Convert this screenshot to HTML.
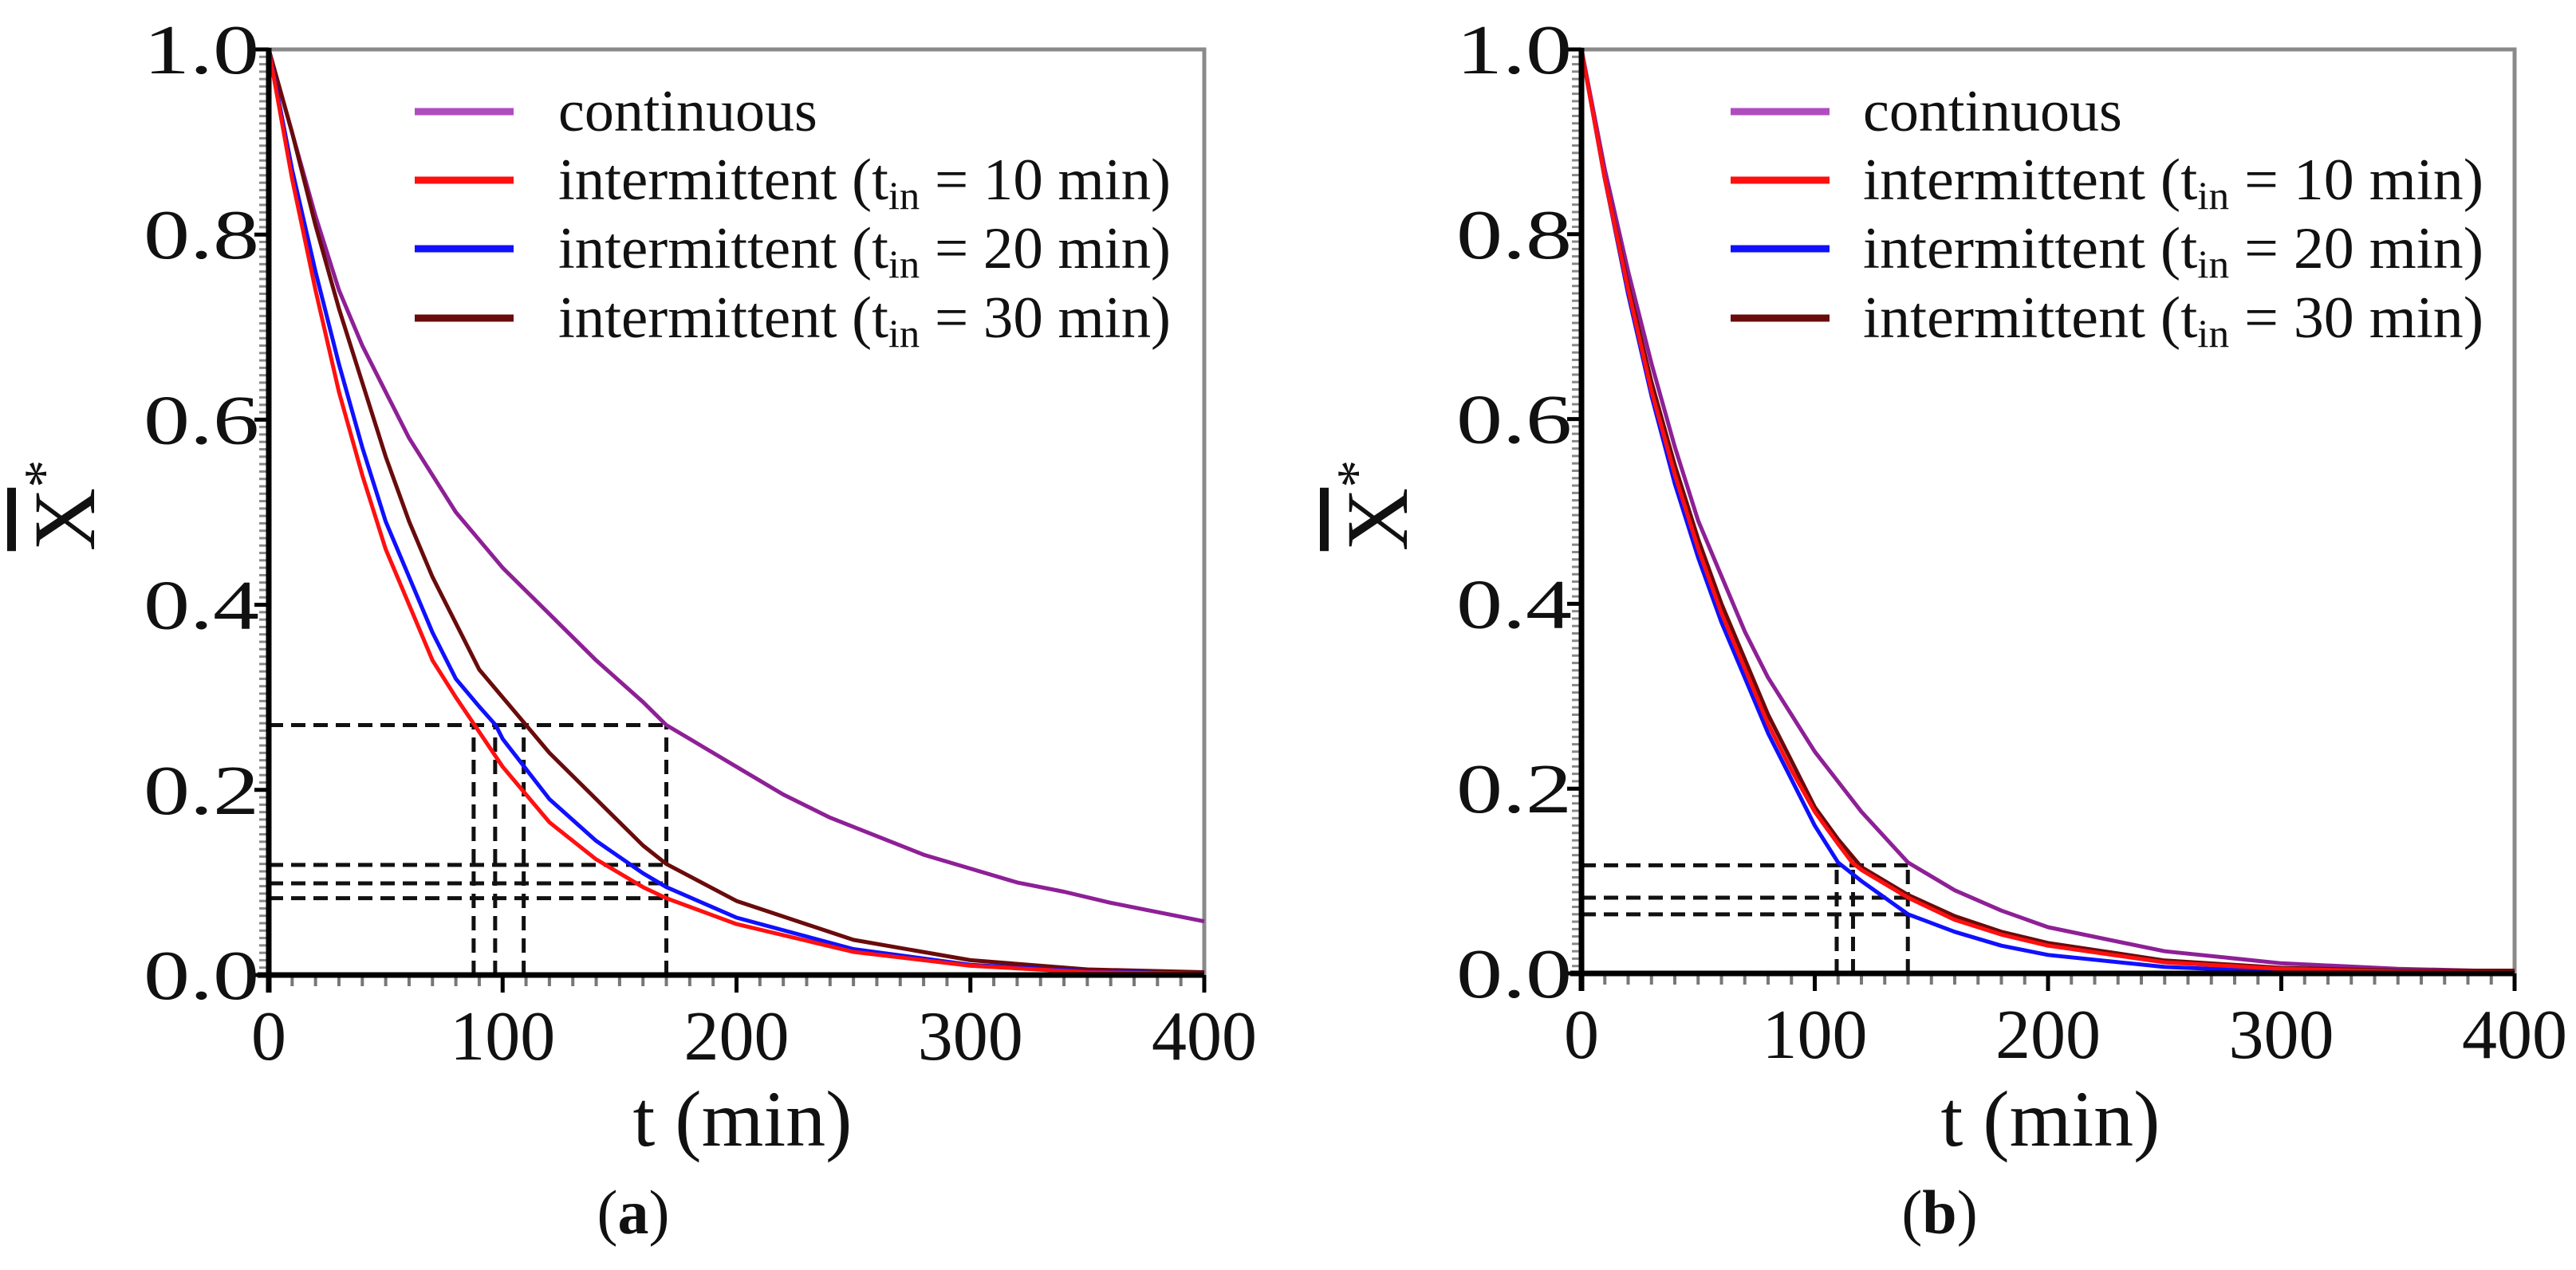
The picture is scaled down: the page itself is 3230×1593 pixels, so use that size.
<!DOCTYPE html>
<html><head><meta charset="utf-8"><style>
html,body{margin:0;padding:0;background:#fff;}
svg{display:block;font-family:"Liberation Serif",serif;}
</style></head><body>
<svg id="fig" width="3230" height="1593" viewBox="0 0 3230 1593" xmlns="http://www.w3.org/2000/svg"></svg>
<script>
const tTicks = [0,100,200,300,400];
const yTicks = [0.0,0.2,0.4,0.6,0.8,1.0];
const yTickLabels = ["0.0","0.2","0.4","0.6","0.8","1.0"];
const legendLabels = ["continuous","intermittent","intermittent","intermittent"];
const legendTin = [null,"10","20","30"];
const seriesNames = ["continuous","tin-10","tin-20","tin-30"];

const aT_cont = [0,10,20,30,40,50,60,70,80,90,100,120,140,160,170,180,200,220,240,260,280,300,320,340,360,380,400];
const aV_cont = [1,0.91,0.82,0.74,0.68,0.63,0.58,0.54,0.50,0.47,0.44,0.39,0.34,0.295,0.27,0.255,0.225,0.195,0.17,0.15,0.13,0.115,0.10,0.09,0.078,0.068,0.058];
const aT_10 = [0,10,20,30,40,50,60,70,80,88,100,120,140,160,170,200,250,300,350,400];
const aV_10 = [1,0.86,0.74,0.63,0.54,0.46,0.40,0.34,0.30,0.27,0.225,0.165,0.125,0.095,0.083,0.055,0.025,0.01,0.003,0.001];
const aT_20 = [0,10,20,30,40,50,60,70,80,90,97,100,120,140,160,170,200,250,300,350,400];
const aV_20 = [1,0.87,0.76,0.66,0.57,0.49,0.43,0.37,0.32,0.29,0.27,0.255,0.19,0.145,0.11,0.095,0.062,0.028,0.011,0.004,0.001];
const aT_30 = [0,10,20,30,40,50,60,70,80,90,100,110,120,140,160,170,200,250,300,350,400];
const aV_30 = [1,0.91,0.81,0.72,0.64,0.56,0.49,0.43,0.38,0.33,0.30,0.27,0.24,0.19,0.14,0.12,0.08,0.038,0.016,0.006,0.003];

const bT_cont = [0,10,20,30,40,50,60,70,80,90,100,120,140,160,180,200,250,300,350,400];
const bV_cont = [1,0.87,0.76,0.66,0.57,0.49,0.43,0.37,0.32,0.28,0.24,0.175,0.12,0.09,0.068,0.05,0.024,0.011,0.005,0.002];
const bT_10 = [0,10,20,30,40,50,60,70,80,90,100,110,116,120,140,160,180,200,250,300,350,400];
const bV_10 = [1,0.86,0.74,0.63,0.54,0.46,0.39,0.33,0.27,0.22,0.175,0.14,0.12,0.112,0.082,0.058,0.042,0.03,0.012,0.005,0.002,0.001];
const bT_20 = [0,10,20,30,40,50,60,70,80,90,100,110,120,140,160,180,200,250,300,350,400];
const bV_20 = [1,0.86,0.735,0.625,0.53,0.45,0.38,0.32,0.26,0.21,0.16,0.12,0.10,0.064,0.045,0.03,0.02,0.007,0.002,0.001,0];
const bT_30 = [0,10,20,30,40,50,60,70,80,90,100,110,120,140,160,180,200,250,300,350,400];
const bV_30 = [1,0.86,0.745,0.64,0.55,0.47,0.40,0.34,0.28,0.23,0.18,0.145,0.115,0.085,0.062,0.045,0.033,0.014,0.006,0.003,0.003];

const aGuideH = [0.27,0.119,0.099,0.083];
const aGuideV = [87.6,96.8,109,170];
const aGuideHEnd = 170, aGuideVTop = 0.27;
const bGuideH = [0.117,0.082,0.064];
const bGuideV = [109.4,116.4,139.9];
const bGuideHEnd = 139.9, bGuideVTop = 0.117;

const colors = ["#8e2096","#ff1010","#1010ff","#6a0b0b"];
const legendColors = ["#b04cc0","#ff1010","#1010ff","#6a0b0b"];

const NS = "http://www.w3.org/2000/svg";
const svg = document.getElementById('fig');
function mk(tag, attrs, parent){const e=document.createElementNS(NS,tag);for(const k in attrs)e.setAttribute(k,attrs[k]);(parent||svg).appendChild(e);return e;}

function panel(id, box, series, gH, gV, gHEnd, gVTop, leg, labels){
  const g = mk('g',{});
  
  
  const X = t => box.x0 + (t/400)*(box.x1-box.x0);
  const Y = v => box.y0 - v*(box.y0-box.y1);
  mk('path',{d:`M${box.x0} ${box.y1} H${box.x1} V${box.y0}`,stroke:'#8a8a8a','stroke-width':5,fill:'none'},g);
  for(let t=0;t<=400;t+=10){mk('line',{x1:X(t),x2:X(t),y1:box.y0,y2:box.y0+(t%100===0?22:14),stroke:t%100===0?'#000':'#777','stroke-width':t%100===0?5:4},g);}
  for(let i=0;i<=125;i++){const v=i/125;mk('line',{x1:box.x0-12,x2:box.x0,y1:Y(v),y2:Y(v),stroke:'#888','stroke-width':3},g);}
  yTicks.forEach(v=>{mk('line',{x1:box.x0-18,x2:box.x0,y1:Y(v),y2:Y(v),stroke:'#000','stroke-width':5},g);});
  gH.forEach((v,i)=>{const l=mk('line',{x1:box.x0,x2:X(gHEnd),y1:Y(v),y2:Y(v),stroke:'#111','stroke-width':5,'stroke-dasharray':'18 10'},g);
    
    });
  gV.forEach((t,i)=>{const l=mk('line',{x1:X(t),x2:X(t),y1:box.y0,y2:Y(gVTop),stroke:'#111','stroke-width':5,'stroke-dasharray':'18 10'},g);
    
    });
  [0,3,2,1].forEach(si=>{const [ts,vs]=series[si];
    const d=ts.map((t,i)=>(i?'L':'M')+X(t).toFixed(1)+' '+Y(vs[i]).toFixed(1)).join(' ');
    const p=mk('path',{d,stroke:colors[si],'stroke-width':5,fill:'none','stroke-linejoin':'round'},g);
    
    });
  mk('line',{x1:box.x0,x2:box.x0,y1:box.y1-2,y2:box.y0+22,stroke:'#000','stroke-width':7},g);
  mk('line',{x1:box.x0-14,x2:box.x1,y1:box.y0,y2:box.y0,stroke:'#000','stroke-width':7},g);
  yTicks.forEach((v,i)=>{const tx=mk('text',{x:box.x0-12,y:Y(v)+30,'font-size':88,'text-anchor':'end',fill:'#111',textLength:145,lengthAdjust:'spacingAndGlyphs'},g);tx.textContent=yTickLabels[i];
    
    });
  tTicks.forEach(t=>{const tx=mk('text',{x:X(t),y:box.y0+106,'font-size':88,'text-anchor':'middle',fill:'#111'},g);tx.textContent=String(t);
    
    });
  const xt=mk('text',{x:labels.xt,y:1437,'font-size':100,'text-anchor':'middle',fill:'#111'},g);xt.textContent='t (min)';
  
  
  const yt=mk('text',{transform:`translate(${labels.yt},634) rotate(-90)`,'font-size':110,'text-anchor':'middle',fill:'#111'},g);
  
  
  yt.innerHTML='<tspan text-decoration="overline">X</tspan><tspan dy="-40" font-size="70">*</tspan>';
  const cap=mk('text',{x:labels.cap,y:1547,'font-size':78,'text-anchor':'middle',fill:'#111'},g);
  cap.innerHTML='(<tspan font-weight="bold">'+id+'</tspan>)';
  
  
  const ly=[140,226,312,399];
  legendLabels.forEach((lab,i)=>{
    const lg=mk('g',{},g);
    
    
    mk('line',{x1:leg.lx0,x2:leg.lx1,y1:ly[i],y2:ly[i],stroke:legendColors[i],'stroke-width':9},lg);
    const tx=mk('text',{x:leg.tx,y:ly[i]+24,'font-size':74,fill:'#111'},lg);
    if(legendTin[i]===null){tx.textContent=lab;}
    else{tx.setAttribute('textLength',leg.tw);tx.setAttribute('lengthAdjust','spacingAndGlyphs');
      tx.innerHTML=lab+' (t<tspan font-size="50" dy="12">in</tspan><tspan dy="-12"> = '+legendTin[i]+' min)</tspan>';}
  });
}

panel('a',{x0:337,x1:1510,y0:1223,y1:62},
  [[aT_cont,aV_cont],[aT_10,aV_10],[aT_20,aV_20],[aT_30,aV_30]],
  aGuideH,aGuideV,aGuideHEnd,aGuideVTop,
  {lx0:520,lx1:644,tx:700,tw:768},{xt:931,yt:118,cap:794});
panel('b',{x0:1983,x1:3153,y0:1221,y1:62},
  [[bT_cont,bV_cont],[bT_10,bV_10],[bT_20,bV_20],[bT_30,bV_30]],
  bGuideH,bGuideV,bGuideHEnd,bGuideVTop,
  {lx0:2170,lx1:2294,tx:2336,tw:778},{xt:2571,yt:1764,cap:2432});
</script>
</body></html>
